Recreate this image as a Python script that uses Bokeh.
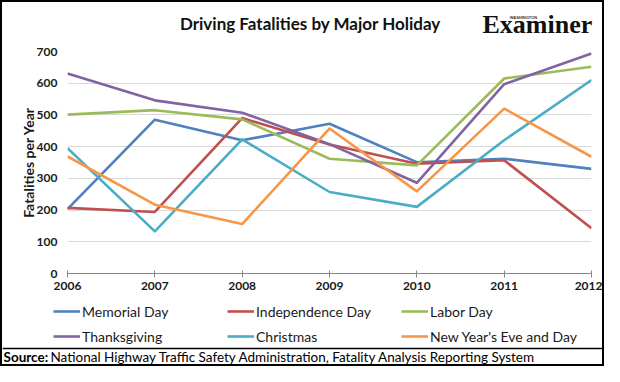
from bokeh.plotting import figure
from bokeh.layouts import column
from bokeh.models import (Range1d, FixedTicker, Legend, LegendItem, BasicTickFormatter)
from bokeh.core.properties import value
from bokeh.embed import file_html
from bokeh.resources import INLINE

years = [2006, 2007, 2008, 2009, 2010, 2011, 2012]
memorial_day = [203, 485, 420, 472, 351, 362, 330]
independence_day = [207, 194, 490, 407, 346, 357, 143]
labor_day = [501, 515, 486, 362, 341, 615, 652]
thanksgiving = [631, 546, 507, 408, 286, 597, 694]
christmas = [395, 133, 423, 257, 210, 420, 610]
new_years = [369, 217, 156, 457, 259, 520, 368]

series_names = ["Memorial Day", "Independence Day", "Labor Day",
                "Thanksgiving", "Christmas", "New Year's Eve and Day"]
series_values = [memorial_day, independence_day, labor_day,
                 thanksgiving, christmas, new_years]
colors = ["#4F81BD", "#C0504D", "#9BBB59", "#8064A2", "#4BACC6", "#F79646"]
y_ticks = [0, 100, 200, 300, 400, 500, 600, 700]

title_text = "Driving Fatalities by Major Holiday"
source_label = "Source:"
source_text = "National Highway Traffic Safety Administration, Fatality Analysis Reporting System"

FONT = "Lato"
W = 600
HEAD_H, MAIN_H, FOOT_H = 40, 256, 66


def blank(h):
    f = figure(width=W, height=h, output_backend="svg", toolbar_location=None,
               x_range=Range1d(0, W), y_range=Range1d(0, h),
               min_border=0, min_border_left=0, min_border_right=0,
               min_border_top=0, min_border_bottom=0, frame_align=False)
    f.axis.visible = False
    f.grid.visible = False
    f.outline_line_color = None
    f.background_fill_color = "white"
    f.border_fill_color = "white"
    return f


# ---------- header ----------
head = blank(HEAD_H)
head.text(x=[308], y=[19], text=[title_text], text_align="center",
          text_baseline="middle", text_font=value(FONT), text_font_style="bold",
          text_font_size="17px", text_color="#111111")
head.text(x=[480], y=[18], text=["Examiner"], text_align="left",
          text_baseline="middle", text_font=value("Liberation Serif"),
          text_font_style="bold", text_font_size="26px", text_color="#111111")
head.text(x=[521], y=[25], text=["WASHINGTON"], text_align="center",
          text_baseline="middle", text_font=value("Liberation Sans"),
          text_font_style="bold", text_font_size="4px", text_color="#333333")

# ---------- main chart ----------
p = figure(width=W, height=MAIN_H, output_backend="svg", toolbar_location=None,
           x_range=Range1d(2006, 2012), y_range=Range1d(0, 700),
           min_border_left=65, min_border_right=11, min_border_top=9,
           min_border_bottom=25, frame_align=False)
p.outline_line_color = None
p.background_fill_color = "white"
p.border_fill_color = "white"

for name, vals, c in zip(series_names, series_values, colors):
    p.line(years, vals, line_color=c, line_width=2.6, line_join="round")

p.xaxis.ticker = FixedTicker(ticks=years)
p.xaxis.formatter = BasicTickFormatter(use_scientific=False)
p.xaxis.axis_line_color = "#868686"
p.xaxis.major_tick_line_color = "#868686"
p.xaxis.major_tick_in = 3
p.xaxis.major_tick_out = 4
p.xaxis.minor_tick_line_color = None
p.xaxis.major_label_standoff = 4
p.xaxis.major_label_text_font = FONT
p.xaxis.major_label_text_font_style = "bold"
p.xaxis.major_label_text_font_size = "12px"
p.xaxis.major_label_text_color = "#1a1a1a"

p.yaxis.ticker = FixedTicker(ticks=y_ticks)
p.yaxis.axis_line_color = None
p.yaxis.major_tick_line_color = None
p.yaxis.minor_tick_line_color = None
p.yaxis.major_tick_out = 0
p.yaxis.major_tick_in = 0
p.yaxis.major_label_standoff = 10
p.yaxis.major_label_text_font = FONT
p.yaxis.major_label_text_font_style = "bold"
p.yaxis.major_label_text_font_size = "12px"
p.yaxis.major_label_text_color = "#1a1a1a"
p.yaxis.axis_label = "Fatalities per Year"
p.yaxis.axis_label_text_font = FONT
p.yaxis.axis_label_text_font_style = "bold"
p.yaxis.axis_label_text_font_size = "14px"
p.yaxis.axis_label_text_color = "#1a1a1a"
p.yaxis.axis_label_standoff = -3

p.xgrid.grid_line_color = None
p.ygrid.ticker = FixedTicker(ticks=y_ticks[1:])
p.ygrid.grid_line_color = "#D9D9D9"
p.ygrid.grid_line_width = 1

# ---------- footer: legend + source ----------
foot = blank(FOOT_H)
# legend proxies: same series, drawn in the footer where they fall outside its range
proxies = []
for vals, c in zip(series_values, colors):
    proxies.append(foot.line(years, vals, line_color=c, line_width=2.6))
items = [LegendItem(label=n, renderers=[r]) for n, r in zip(series_names, proxies)]
legend = Legend(items=items, ncols=3, orientation="horizontal", location=(51, 19),
                glyph_width=27, glyph_height=18, label_height=18, label_width=138,
                label_standoff=2, spacing=7, padding=0, margin=0,
                border_line_color=None, background_fill_alpha=0,
                label_text_font=FONT, label_text_font_size="14px",
                label_text_color="#1a1a1a")
foot.add_layout(legend, "center")

foot.segment(x0=[0], y0=[16], x1=[W], y1=[16], line_color="black", line_width=1.5)
foot.text(x=[1], y=[8], text=[source_label], text_align="left",
          text_baseline="middle", text_font=value(FONT), text_font_style="bold",
          text_font_size="13.5px", text_color="black")
foot.text(x=[48], y=[8], text=[source_text], text_align="left",
          text_baseline="middle", text_font=value(FONT),
          text_font_size="13.5px", text_color="black")

layout = column(head, p, foot, spacing=0,
                styles={"border": "2px solid black"})

open("out.html", "w").write(file_html(layout, INLINE))
